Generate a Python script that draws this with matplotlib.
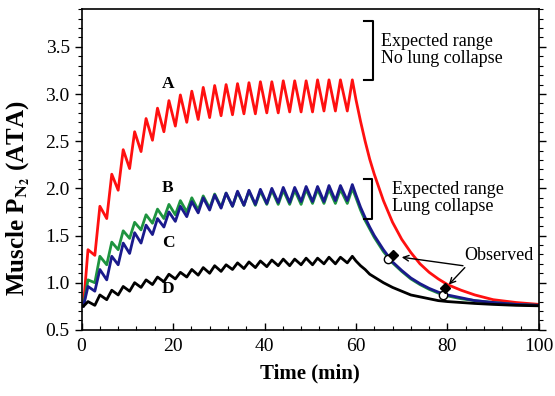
import matplotlib
matplotlib.use('Agg')
import matplotlib.pyplot as plt
from matplotlib.ticker import MultipleLocator

plt.rcParams['font.family'] = ['Liberation Serif', 'DejaVu Serif']
plt.rcParams['mathtext.fontset'] = 'stix'

# dive profile: trough (start of compression) and peak times, min
trough_t = [0.4, 2.9, 5.5, 8.0, 10.5, 13.0, 15.5, 18.0, 20.5, 23.0, 25.5, 28.0,
            30.5, 33.0, 35.5, 38.0, 40.5, 43.0, 45.5, 48.0, 50.5, 53.0, 55.5, 58.1]
peak_t = [1.4, 4.0, 6.6, 9.1, 11.6, 14.1, 16.6, 19.1, 21.6, 24.1, 26.6, 29.1,
          31.6, 34.1, 36.6, 39.1, 41.6, 44.1, 46.6, 49.1, 51.6, 54.1, 56.6, 59.2]
# washout after surfacing
decay_t = [60, 61, 62, 63, 64, 66, 68, 70, 72, 74, 76, 78, 80, 83, 86, 90, 95, 100]

start_val = 0.75

a_peaks = [1.35, 1.81, 2.15, 2.41, 2.60, 2.74, 2.85, 2.93, 2.99, 3.03, 3.07, 3.09,
           3.10, 3.11, 3.12, 3.13, 3.13, 3.14, 3.14, 3.14, 3.15, 3.15, 3.15, 3.15]
a_troughs = [0.75, 1.29, 1.68, 1.98, 2.21, 2.39, 2.51, 2.60, 2.66, 2.70, 2.73, 2.75,
             2.77, 2.78, 2.79, 2.79, 2.80, 2.80, 2.81, 2.81, 2.81, 2.82, 2.82, 2.82]
a_decay = [2.94, 2.71, 2.50, 2.31, 2.15, 1.87, 1.64, 1.46, 1.32, 1.20, 1.11, 1.04,
           0.98, 0.92, 0.87, 0.82, 0.79, 0.77]

b_peaks = [1.03, 1.28, 1.43, 1.55, 1.64, 1.72, 1.78, 1.83, 1.87, 1.90, 1.92, 1.94,
           1.95, 1.96, 1.97, 1.97, 1.98, 1.98, 1.98, 1.99, 1.99, 1.99, 1.99, 2.00]
b_troughs = [0.75, 1.00, 1.19, 1.35, 1.47, 1.56, 1.63, 1.68, 1.72, 1.75, 1.77, 1.79,
             1.80, 1.81, 1.82, 1.82, 1.83, 1.83, 1.83, 1.83, 1.84, 1.84, 1.84, 1.84]
b_decay = [1.90, 1.77, 1.66, 1.57, 1.48, 1.33, 1.21, 1.12, 1.04, 0.98, 0.93, 0.89,
           0.86, 0.83, 0.81, 0.79, 0.77, 0.76]

c_peaks = [0.96, 1.14, 1.28, 1.42, 1.53, 1.61, 1.68, 1.75, 1.81, 1.86, 1.90, 1.93,
           1.95, 1.97, 1.98, 1.99, 2.00, 2.01, 2.01, 2.02, 2.02, 2.03, 2.03, 2.04]
c_troughs = [0.75, 0.91, 1.03, 1.19, 1.31, 1.42, 1.51, 1.59, 1.65, 1.70, 1.74, 1.77,
             1.79, 1.81, 1.82, 1.83, 1.84, 1.85, 1.85, 1.86, 1.86, 1.86, 1.87, 1.87]
c_decay = [1.93, 1.80, 1.69, 1.59, 1.50, 1.35, 1.22, 1.13, 1.05, 0.99, 0.94, 0.90,
           0.87, 0.84, 0.81, 0.79, 0.77, 0.76]

d_peaks = [0.80, 0.87, 0.92, 0.96, 1.00, 1.03, 1.06, 1.09, 1.11, 1.14, 1.16, 1.18,
           1.19, 1.21, 1.22, 1.23, 1.24, 1.25, 1.25, 1.26, 1.26, 1.27, 1.27, 1.28]
d_troughs = [0.75, 0.76, 0.82, 0.87, 0.91, 0.95, 0.98, 1.01, 1.04, 1.06, 1.08, 1.10,
             1.12, 1.14, 1.15, 1.16, 1.17, 1.18, 1.18, 1.19, 1.19, 1.20, 1.20, 1.21]
d_decay = [1.23, 1.18, 1.14, 1.09, 1.06, 1.00, 0.95, 0.91, 0.87, 0.85, 0.83, 0.81,
           0.80, 0.79, 0.78, 0.77, 0.76, 0.755]

# observed muscle values
obs_fill_t = [68.0, 79.5]
obs_fill_v = [1.29, 0.94]
obs_open_t = [67.0, 79.0]
obs_open_v = [1.25, 0.87]


def build(troughs, peaks, decay):
    t = [0.0]
    v = [start_val]
    for i in range(len(peaks)):
        t.append(trough_t[i])
        v.append(troughs[i])
        t.append(peak_t[i])
        v.append(peaks[i])
    t += decay_t
    v += decay
    return t, v


fig = plt.figure(figsize=(5.55, 3.96), dpi=100)
ax = fig.add_axes([0.147, 0.167, 0.824, 0.810])

lw = 2.0
kw = dict(lw=lw, solid_joinstyle='round', solid_capstyle='round')
t, v = build(a_troughs, a_peaks, a_decay)
ax.plot(t, v, color='#ff1010', **kw)
t, v = build(b_troughs, b_peaks, b_decay)
ax.plot(t, v, color='#1e9440', **kw)
t, v = build(c_troughs, c_peaks, c_decay)
ax.plot(t, v, color='#1a1a8c', **kw)
t, v = build(d_troughs, d_peaks, d_decay)
ax.plot(t, v, color='black', **kw)

ax.plot(obs_open_t, obs_open_v, 'o', ms=6, mfc='white', mec='black', mew=1, zorder=5)
ax.plot(obs_fill_t, obs_fill_v, 'D', ms=5.5, color='black', zorder=6)

# curve labels
for lab, yy in [('A', 3.11), ('B', 2.00), ('C', 1.42), ('D', 0.93)]:
    ax.text(18.9, yy, lab, fontsize=12.5, fontweight='bold', ha='center', va='center')

# expected range brackets
ax.plot([61.7, 63.8, 63.8, 61.7], [3.77, 3.77, 3.15, 3.15], color='black', lw=1.5)
ax.text(65.4, 3.47, 'Expected range\nNo lung collapse', fontsize=13,
        ha='left', va='center', linespacing=1.0)
ax.plot([61.7, 63.6, 63.6, 61.7], [2.10, 2.10, 1.68, 1.68], color='black', lw=1.5)
ax.text(67.9, 1.895, 'Expected range\nLung collapse', fontsize=13,
        ha='left', va='center', linespacing=1.0)

ax.text(91.2, 1.29, 'Observed', fontsize=13, ha='center', va='center')
ax.annotate('', xy=(70.0, 1.27), xytext=(83.4, 1.18),
            arrowprops=dict(arrowstyle='->', color='black', lw=1, shrinkA=0, shrinkB=0))
ax.annotate('', xy=(80.3, 0.98), xytext=(83.8, 1.16),
            arrowprops=dict(arrowstyle='->', color='black', lw=1, shrinkA=0, shrinkB=0))

ax.set_xlim(0, 100)
ax.set_ylim(0.5, 3.9)
ax.xaxis.set_major_locator(MultipleLocator(20))
ax.xaxis.set_minor_locator(MultipleLocator(4))
ax.yaxis.set_major_locator(MultipleLocator(0.5))
ax.yaxis.set_minor_locator(MultipleLocator(0.1))
ax.yaxis.set_major_formatter(plt.FormatStrFormatter('%.1f'))
ax.tick_params(axis='x', which='both', direction='in', top=False, labelsize=14, pad=6)
ax.tick_params(axis='y', which='both', direction='out', right=True, labelsize=14)
ax.tick_params(which='major', length=5, width=1)
ax.tick_params(which='minor', length=3, width=0.8)
for s in ax.spines.values():
    s.set_linewidth(1.2)

ax.set_xlabel('Time (min)', fontsize=15, fontweight='bold', labelpad=6)
ax.set_ylabel(r'Muscle P$_{\mathbf{N}_{\mathbf{2}}}$ (ATA)', fontsize=18, fontweight='bold')
ax.yaxis.set_label_coords(-0.108, 0.41)

fig.savefig('out.png', dpi=100)
